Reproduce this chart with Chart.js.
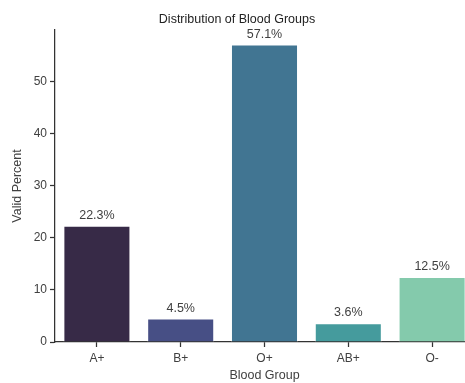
<!DOCTYPE html>
<html>
<head>
<meta charset="utf-8">
<script src="https://cdn.jsdelivr.net/npm/chart.js@4"></script>
<style>
  html, body { margin: 0; padding: 0; background: #fff; overflow: hidden; }
  #wrap { width: 465px; height: 383px; overflow: hidden; }
</style>
</head>
<body>
<div id="wrap"><canvas id="myChart" width="475" height="383"></canvas></div>
<script>
// blood groups and their valid percent
const groups = ['A+', 'B+', 'O+', 'AB+', 'O-'];
const validPercent = [22.3, 4.5, 57.1, 3.6, 12.5];
const barColors = ['#372a47', '#474f85', '#417592', '#459b9d', '#84caac'];
const yTicks = [0, 10, 20, 30, 40, 50];

// draws the "xx.x%" text above each bar
const valueLabels = {
  id: 'valueLabels',
  afterDatasetsDraw(chart) {
    const ctx = chart.ctx;
    const meta = chart.getDatasetMeta(0);
    ctx.save();
    ctx.font = '12.5px "Liberation Sans", Arial, sans-serif';
    ctx.fillStyle = '#404040';
    ctx.textAlign = 'center';
    ctx.textBaseline = 'bottom';
    meta.data.forEach(function (bar, i) {
      ctx.fillText(validPercent[i].toFixed(1) + '%', bar.x, bar.y - 4);
    });
    ctx.restore();
  }
};

Chart.defaults.font.family = '"Liberation Sans", Arial, sans-serif';
Chart.defaults.font.size = 12;
Chart.defaults.color = '#404040';

var ctx = document.getElementById('myChart').getContext('2d');
var myChart = new Chart(ctx, {
  type: 'bar',
  data: {
    labels: groups,
    datasets: [{
      data: validPercent,
      backgroundColor: barColors,
      borderColor: 'rgba(255,255,255,0.8)',
      borderWidth: 1,
      barPercentage: 0.8,
      categoryPercentage: 1
    }]
  },
  options: {
    responsive: false,
    animation: false,
    layout: { padding: { left: 0, right: 1, top: 0, bottom: 0 } },
    plugins: {
      legend: { display: false },
      tooltip: { enabled: false },
      title: {
        display: true,
        text: 'Distribution of Blood Groups',
        color: '#222',
        font: { size: 12.5, weight: 'normal' },
        padding: { top: 12, bottom: 3 }
      }
    },
    scales: {
      x: {
        grid: { display: true, offset: false, drawOnChartArea: false, tickLength: 5, tickColor: '#333', tickWidth: 1.25 },
        border: { color: '#333', width: 1.25 },
        ticks: { padding: 4, color: '#404040' },
        title: { display: true, text: 'Blood Group', color: '#404040', font: { size: 12.5 }, padding: { top: 0, bottom: 0 } },
        afterFit(scale) { scale.height = 41; }
      },
      y: {
        min: 0,
        max: 59.9,
        grid: { display: true, drawOnChartArea: false, tickLength: 5, tickColor: '#333', tickWidth: 1.25 },
        border: { color: '#333', width: 1.25 },
        ticks: { stepSize: 10, padding: 3, color: '#404040' },
        afterBuildTicks(scale) {
          scale.ticks = yTicks.map(function (v) { return { value: v }; });
        },
        title: { display: true, text: 'Valid Percent', color: '#404040', font: { size: 12.5 }, padding: { top: 10, bottom: 0 } },
        afterFit(scale) { scale.width = 55; }
      }
    }
  },
  plugins: [valueLabels]
});
</script>
</body>
</html>
